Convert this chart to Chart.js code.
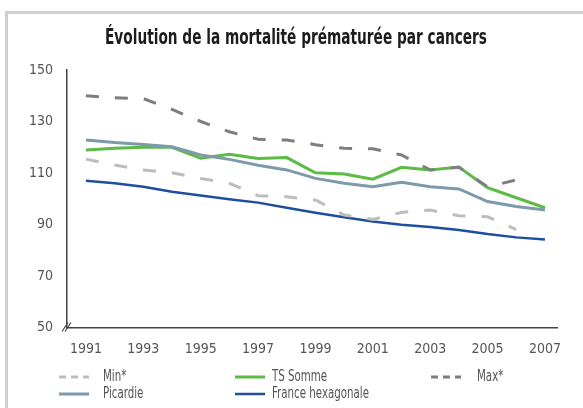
<!DOCTYPE html>
<html lang="fr">
<head>
<meta charset="utf-8">
<title>Évolution de la mortalité prématurée par cancers</title>
<script src="https://cdn.jsdelivr.net/npm/chart.js@4.4.1/dist/chart.umd.min.js"></script>
<style>
html,body{margin:0;padding:0;background:#fff;}
#wrap{position:relative;width:583px;height:408px;overflow:hidden;}
#frame{position:absolute;left:5px;top:11px;right:-10px;bottom:-10px;border-left:3px solid #cfcfcf;border-top:3px solid #cfcfcf;}
canvas{position:absolute;left:0;top:0;}
</style>
</head>
<body>
<div id="wrap"><div id="frame"></div><canvas id="chart" width="583" height="408"></canvas></div>
<script>
// years on the x axis and the ones that get a label
const YEARS = [1991,1992,1993,1994,1995,1996,1997,1998,1999,2000,2001,2002,2003,2004,2005,2006,2007];
const X_TICKS = [1991,1993,1995,1997,1999,2001,2003,2005,2007];
const Y_TICKS = [50,70,90,110,130,150];

// values
const MIN_VALS      = [115.4,113.1,111.2,110.1,107.9,106.0,101.2,100.8,99.5,93.7,92.0,94.7,95.6,93.4,93.0,88.0,null];
const SOMME_VALS    = [118.9,119.6,120.0,120.0,115.7,117.3,115.6,116.0,110.1,109.6,107.6,112.2,111.2,112.3,104.3,100.4,96.5];
const MAX_VALS      = [140.0,139.2,138.9,134.7,130.0,126.0,123.1,122.8,121.0,119.6,119.4,117.0,111.2,112.2,104.6,107.3,null];
const PICARDIE_VALS = [122.8,121.8,121.1,120.2,117.0,115.3,113.0,111.2,107.9,106.0,104.7,106.4,104.7,103.8,98.9,97.0,95.6];
const FRANCE_VALS   = [107.0,106.0,104.7,102.7,101.3,99.8,98.5,96.5,94.6,92.8,91.2,89.9,89.0,87.9,86.3,85.0,84.2];

const TITLE = 'Évolution de la mortalité prématurée par cancers';
const FONT = "'Liberation Sans Narrow', 'DejaVu Sans Condensed', sans-serif";

function pts(vals){
  return YEARS.map((yr,i)=>({x:yr, y:vals[i]}));
}

const datasets = [
  {label:'Min*', data:pts(MIN_VALS), borderColor:'#bdbdbd', borderDash:[13,16], borderWidth:3, order:2},
  {label:'TS Somme', data:pts(SOMME_VALS), borderColor:'#5bbb45', borderWidth:3, order:4},
  {label:'Max*', data:pts(MAX_VALS), borderColor:'#7d7d82', borderDash:[13,16], borderWidth:3, order:1},
  {label:'Picardie', data:pts(PICARDIE_VALS), borderColor:'#7c9aab', borderWidth:3, order:3},
  {label:'France hexagonale', data:pts(FRANCE_VALS), borderColor:'#1f4e9e', borderWidth:2.5, order:5}
];

// text squeezed horizontally, the reference uses a condensed face
function squeezed(ctx, txt, x, y, sx){
  ctx.save();
  ctx.translate(x, y);
  ctx.scale(sx, 1);
  ctx.fillText(txt, 0, 0);
  ctx.restore();
}

// title, axis break and 3-column legend drawn on the canvas
const decorPlugin = {
  id:'decor',
  afterDraw(chart){
    const ctx = chart.ctx;
    const area = chart.chartArea;
    ctx.save();
    ctx.fillStyle = '#1c1c1c';
    ctx.font = "bold 21px " + FONT;
    ctx.textAlign = 'left';
    ctx.textBaseline = 'middle';
    const w = ctx.measureText(TITLE).width;
    const sx = 382 / w;
    squeezed(ctx, TITLE, 296 - 191, 39, sx);

    // axis break marks
    ctx.strokeStyle = '#444';
    ctx.lineWidth = 1.2;
    ctx.beginPath();
    ctx.moveTo(area.left-5, area.bottom+4); ctx.lineTo(area.left+1, area.bottom-5);
    ctx.moveTo(area.left-2, area.bottom+4); ctx.lineTo(area.left+4, area.bottom-5);
    ctx.stroke();

    // legend
    const cols = [{lx:59, tx:103},{lx:235, tx:272},{lx:431, tx:477}];
    const rows = [377, 394];
    const slots = [[0,0],[1,0],[2,0],[0,1],[1,1]];
    ctx.font = "15px " + FONT;
    chart.data.datasets.forEach((ds,i)=>{
      const c = cols[slots[i][0]], y = rows[slots[i][1]];
      ctx.strokeStyle = ds.borderColor;
      ctx.lineWidth = ds.borderWidth;
      ctx.setLineDash(ds.borderDash ? [7,5] : []);
      ctx.beginPath();
      ctx.moveTo(c.lx, y); ctx.lineTo(c.lx+30, y);
      ctx.stroke();
      ctx.setLineDash([]);
      ctx.fillStyle = '#555';
      squeezed(ctx, ds.label, c.tx, y, 0.76);
    });
    ctx.restore();
  }
};

new Chart(document.getElementById('chart'), {
  type:'line',
  data:{datasets},
  plugins:[decorPlugin],
  options:{
    responsive:false,
    animation:false,
    devicePixelRatio:1,
    layout:{padding:{top:70, left:0, right:26, bottom:55}},
    elements:{point:{radius:0}, line:{tension:0, borderCapStyle:'butt', borderJoinStyle:'miter'}},
    plugins:{legend:{display:false}, tooltip:{enabled:false}, title:{display:false}},
    scales:{
      x:{
        type:'linear', min:1990.34, max:2007.42,
        grid:{display:false, drawTicks:false},
        border:{color:'#444', width:1.5},
        afterBuildTicks(s){ s.ticks = X_TICKS.map(v=>({value:v})); },
        afterFit(s){ s.height = 25.5; },
        ticks:{padding:13, color:'#555', font:{family:FONT, size:14}, maxRotation:0, autoSkip:false, callback:v=>String(v)}
      },
      y:{
        min:50, max:150,
        grid:{display:false, drawTicks:false},
        border:{color:'#444', width:1.5},
        afterBuildTicks(s){ s.ticks = Y_TICKS.map(v=>({value:v})); },
        afterFit(s){ s.width = 67; },
        ticks:{padding:14, color:'#555', font:{family:FONT, size:14}, callback:v=>String(v)}
      }
    }
  }
});
</script>
</body>
</html>
